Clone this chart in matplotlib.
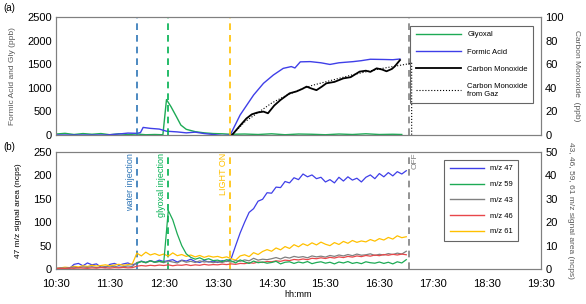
import matplotlib
matplotlib.use("Agg")
import matplotlib.pyplot as plt
from matplotlib.lines import Line2D
import numpy as np

plt.rcParams['font.family'] = ['Liberation Sans', 'DejaVu Sans']


def h(s):
    hh, mm = s.split(':')
    return int(hh) + int(mm) / 60.0


# ---- panel (a) ----
gly_t = ["10:30", "10:40", "10:50", "11:00", "11:10", "11:20", "11:30", "11:40", "11:50",
         "12:00", "12:10", "12:20", "12:29", "12:33", "12:38", "12:44", "12:49", "12:55",
         "13:05", "13:15", "13:25", "13:35", "13:45", "14:00", "14:15", "14:30", "14:45",
         "15:00", "15:15", "15:30", "15:45", "16:00", "16:15", "16:30", "16:45", "16:55"]
gly_v = [20, 35, 10, 30, 15, 30, 5, 25, 10, 20, 5, 10, 5, 750, 600, 390, 210, 120,
         70, 45, 30, 25, 15, 20, 10, 25, 5, 20, 15, 5, 20, 10, 25, 10, 15, 10]

formic_t = ["10:30", "11:00", "11:25", "11:40", "11:50", "12:00", "12:04", "12:07", "12:15",
            "12:25", "12:33", "12:45", "12:55", "13:05", "13:15", "13:25", "13:35", "13:44",
            "13:55", "14:10", "14:21", "14:32", "14:43", "14:52", "14:56", "15:02", "15:13",
            "15:25", "15:35", "15:45", "16:01", "16:10", "16:20", "16:35", "16:45", "16:53"]
formic_v = [0, 0, 0, 20, 40, 35, 50, 160, 140, 125, 80, 65, 45, 60, 30, 10, -10, 0,
            424, 847, 1095, 1271, 1412, 1450, 1420, 1550, 1555, 1530, 1495, 1530, 1555,
            1575, 1605, 1600, 1595, 1610]

co_t = ["13:46", "13:55", "14:02", "14:08", "14:14", "14:21", "14:26", "14:33", "14:40",
        "14:50", "14:58", "15:04", "15:09", "15:14", "15:20", "15:26", "15:31", "15:40",
        "15:50", "15:58", "16:08", "16:15", "16:20", "16:27", "16:33", "16:38", "16:44",
        "16:47", "16:53"]
co_v = [0, 8, 14, 17.5, 19, 19.8, 18.4, 25, 29.7, 35.3, 37, 39, 41, 39.5, 38, 41, 43.8,
        45, 48, 49, 53.7, 54.5, 53.5, 56.5, 55.5, 54, 56, 58, 63.5]

cogaz_t = ["13:46", "14:00", "14:15", "14:30", "14:45", "15:00", "15:15", "15:30", "15:45",
           "16:00", "16:15", "16:30", "16:45", "17:00", "17:06", "17:06"]
cogaz_v = [0, 11, 19, 27, 33, 38, 42, 45, 48, 51, 53.5, 56, 58, 60, 61, 0]

# ---- panel (b): 5-min samples from 10:30 to 17:00 ----
t_b = 10.5 + np.arange(79) * 5 / 60.0
mz47 = [0, 1, 0, 1, 10, 12, 7, 13, 9, 11, 4, 3,
        10, 12, 8, 11, 13, 9, 12, 17, 14, 18, 15, 19,
        16, 18, 20, 15, 19, 17, 21, 16, 14, 18, 15, 17,
        14, 18, 16, 22, 50, 77, 100, 121, 129, 145, 149, 163,
        162, 175, 174, 187, 184, 195, 191, 203, 197, 201, 193, 196,
        186, 191, 184, 196, 188, 197, 190, 194, 186, 196, 201, 193,
        204, 197, 206, 199, 208, 203, 210]
mz59 = [np.nan] * 18 + [2.5, 3.2, 2.8, 3.5, 2.9, 3.3,
        3.0, 25, 21, 15, 10, 6.5, 5, 4.2, 4.8, 3.9, 4.4, 3.6,
        3.8, 3.2, 4.0, 3.5, 2.6, 3.9, 3.1, 2.4, 3.4, 2.7, 3.0, 2.5,
        2.8, 3.3, 2.2, 2.9, 3.1, 2.4, 3.0, 2.6, 3.2, 2.3, 2.8, 3.1,
        2.5, 2.9, 2.2, 3.0, 2.6, 3.2, 2.4, 2.8, 2.3, 3.1, 2.7, 2.5,
        3.0, 2.4, 2.9, 2.2, 3.1, 2.6, 4.0]
mz43 = [0.3, 0.5, 0.4, 0.6, 0.8, 0.5, 0.9, 0.7, 1.0, 0.6, 0.8, 1.1,
        0.9, 1.2, 0.8, 1.0, 1.3, 1.1, 2.8, 3.3, 2.6, 3.5, 2.9, 3.2,
        2.7, 3.4, 3.0, 2.6, 3.6, 2.9, 3.3, 2.8, 3.5, 3.0, 3.2, 2.7,
        3.1, 2.8, 3.4, 3.0, 3.6, 3.3, 3.9, 3.5, 4.6, 3.8, 4.2, 4.0,
        4.4, 4.9, 4.3, 5.1, 4.7, 5.4, 5.0, 5.3, 4.8, 5.6, 5.2, 5.5,
        5.1, 5.8, 5.4, 6.0, 5.6, 6.2, 5.7, 6.4, 5.9, 6.1, 6.5, 5.8,
        6.3, 6.0, 6.6, 6.2, 6.8, 6.4, 7.6]
mz46 = [0.2, 0.3, 0.2, 0.4, 0.3, 0.5, 0.4, 0.3, 0.5, 0.4, 0.6, 0.5,
        0.4, 0.6, 0.5, 0.7, 0.5, 0.6, 1.2, 1.5, 1.3, 1.6, 1.4, 1.7,
        1.5, 1.8, 1.4, 1.7, 1.6, 1.9, 1.5, 1.8, 1.6, 2.0, 1.7, 1.9,
        1.8, 2.1, 1.9, 2.2, 2.0, 2.4, 2.3, 2.7, 2.5, 3.0, 2.8, 3.2,
        3.1, 3.5, 3.3, 3.8, 3.6, 4.1, 3.9, 4.3, 4.0, 4.6, 4.4, 4.8,
        4.5, 5.0, 4.7, 5.2, 4.9, 5.4, 5.1, 5.6, 5.3, 5.8, 5.5, 6.0,
        5.7, 6.2, 5.9, 6.3, 6.0, 6.4, 6.1]
mz61 = [0.3, 0.5, 0.8, 0.6, 1.2, 0.9, 1.4, 1.1, 1.6, 1.3, 1.5, 1.8,
        1.4, 1.7, 2.0, 1.6, 1.9, 2.2, 6.8, 5.6, 7.2, 6.0, 6.6, 5.8,
        6.4, 5.5, 6.9, 5.7, 6.2, 5.4, 6.0, 5.2, 5.8, 5.0, 5.6, 5.1,
        5.4, 4.8, 5.2, 4.4, 3.8, 5.6, 6.1, 5.3, 7.0, 6.2, 7.5, 8.3,
        7.6, 9.0, 8.2, 9.6, 8.8, 10.4, 9.5, 10.8, 10.0, 11.2, 10.3, 11.5,
        10.6, 10.0, 11.3, 10.5, 11.8, 11.0, 12.2, 11.4, 12.0, 11.6, 12.6, 11.9,
        13.0, 12.4, 13.5, 12.8, 14.2, 13.4, 13.8]

events = {"water injection": ("12:00", "#2E75B6"),
          "glyoxal injection": ("12:35", "#00B050"),
          "LIGHT ON": ("13:44", "#FFC000"),
          "OFF": ("17:03", "#808080")}

xticks = ["10:30", "11:30", "12:30", "13:30", "14:30", "15:30", "16:30", "17:30", "18:30", "19:30"]

c_gly = "#1DAA55"
c_formic = "#3F3FE8"
c_gray = "#808080"
c_red = "#E8474A"
c_yel = "#FFC000"
tcol = "#595959"

fig = plt.figure(figsize=(5.86, 3.04), dpi=100)
ax1 = fig.add_axes([0.0956, 0.556, 0.8276, 0.388])
ax2 = fig.add_axes([0.0956, 0.115, 0.8276, 0.385])
ax1r = ax1.twinx()
ax2r = ax2.twinx()

# panel (a)
l1, = ax1.plot([h(s) for s in gly_t], gly_v, color=c_gly, lw=1.0, label="Glyoxal")
l2, = ax1.plot([h(s) for s in formic_t], formic_v, color=c_formic, lw=1.0, label="Formic Acid")
l3, = ax1r.plot([h(s) for s in co_t], co_v, color="black", lw=1.3, label="Carbon Monoxide")
l4, = ax1r.plot([h(s) for s in cogaz_t], cogaz_v, color="black", lw=0.8, ls=":",
                label="Carbon Monoxide\nfrom Gaz")
ax1.set_ylim(0, 2500)
ax1.set_yticks(range(0, 2501, 500))
ax1r.set_ylim(0, 100)
ax1r.set_yticks(range(0, 101, 20))
ax1.set_ylabel("Formic Acid and Gly (ppb)", fontsize=6, color=tcol, labelpad=8)
ax1r.set_ylabel("Carbon Monoxide  (ppb)", fontsize=6, color=tcol, rotation=-90, labelpad=12)
leg1 = ax1.legend(handles=[l1, l2, l3, l4], loc="upper right", bbox_to_anchor=(0.992, 0.958),
                  fontsize=5.5, frameon=True, fancybox=False, edgecolor="#404040",
                  handlelength=6, labelspacing=1.3, borderpad=0.7)
leg1.get_frame().set_linewidth(0.8)

# panel (b)
ax2.plot(t_b, mz47, color=c_formic, lw=0.9, zorder=5)
ax2r.plot(t_b, mz61, color=c_yel, lw=0.9)
ax2r.plot(t_b, mz43, color=c_gray, lw=0.9)
ax2r.plot(t_b, mz46, color=c_red, lw=0.9)
ax2r.plot(t_b, mz59, color=c_gly, lw=0.9)
ax2.set_ylim(0, 250)
ax2.set_yticks(range(0, 251, 50))
ax2r.set_ylim(0, 50)
ax2r.set_yticks(range(0, 51, 10))
ax2.set_ylabel("47 m/z signal area (ncps)", fontsize=6, color="black", labelpad=8)
ax2r.set_ylabel("43, 46, 59, 61 m/z signal area (ncps)", fontsize=6, color=tcol,
                rotation=-90, labelpad=12)
ax2.set_xlabel("hh:mm", fontsize=6.5, labelpad=1)

hb = [Line2D([], [], color=c_formic, lw=1.0), Line2D([], [], color=c_gly, lw=1.0),
      Line2D([], [], color=c_gray, lw=1.0), Line2D([], [], color=c_red, lw=1.0),
      Line2D([], [], color=c_yel, lw=1.0)]
leg2 = ax2r.legend(hb, ["m/z 47", "m/z 59", "m/z 43", "m/z 46", "m/z 61"], loc="upper right",
                   bbox_to_anchor=(0.961, 0.966), fontsize=5.5, frameon=True, fancybox=False,
                   edgecolor="#404040", handlelength=4.5, labelspacing=1.1, borderpad=0.7)
leg2.get_frame().set_linewidth(0.8)

for ax in (ax1, ax2):
    ax.set_xlim(10.5, 19.5)
    ax.set_xticks([h(s) for s in xticks])
    for name, (tm, col) in events.items():
        ax.axvline(h(tm), color=col, ls=(0, (4, 3)), lw=1.2, zorder=6)
ax1.set_xticklabels([])
ax2.set_xticklabels(xticks)

for name, (tm, col) in events.items():
    if name == "OFF":
        ax2.text(h(tm) + 0.04, 248, name, rotation=90, color=col, fontsize=6, ha="left", va="top")
    else:
        ax2.text(h(tm) - 0.04, 248, name, rotation=90, color=col, fontsize=6.5, ha="right", va="top")

for ax in (ax1, ax1r, ax2, ax2r):
    ax.tick_params(length=0, labelsize=8, pad=3)
    for sp in ax.spines.values():
        sp.set_color("#808080")
        sp.set_linewidth(0.8)
ax2.tick_params(axis="x", pad=7)

fig.text(0.005, 0.975, "(a)", fontsize=7, va="center")
fig.text(0.005, 0.518, "(b)", fontsize=7, va="center")

fig.savefig("out.png", dpi=100)
